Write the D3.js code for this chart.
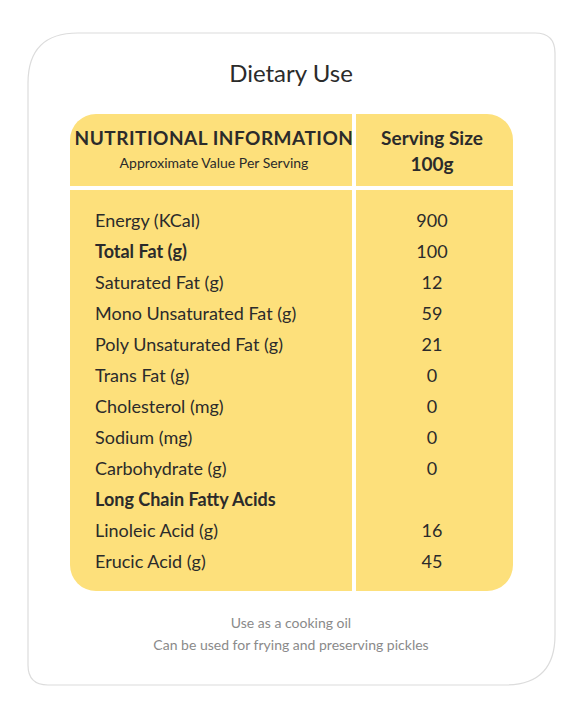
<!DOCTYPE html>
<html>
<head>
<meta charset="utf-8">
<script src="https://cdn.jsdelivr.net/npm/d3@7"></script>
<style>
  body { margin: 0; background: #fff; }
  text { font-family: Lato, 'Open Sans', sans-serif; }
</style>
</head>
<body>
<svg class="nutri" width="583" height="720"></svg>
<script>
const nutrients = ['Energy (KCal)', 'Total Fat (g)', 'Saturated Fat (g)', 'Mono Unsaturated Fat (g)',
  'Poly Unsaturated Fat (g)', 'Trans Fat (g)', 'Cholesterol (mg)', 'Sodium (mg)',
  'Carbohydrate (g)', 'Long Chain Fatty Acids', 'Linoleic Acid (g)', 'Erucic Acid (g)'];
const values = ['900', '100', '12', '59', '21', '0', '0', '0', '0', '', '16', '45'];
const boldRows = ['Total Fat (g)', 'Long Chain Fatty Acids'];
const footerLines = ['Use as a cooking oil', 'Can be used for frying and preserving pickles'];

const svg = d3.select('.nutri');
const yellow = '#fde07b';
const ink = '#2b2b2b';

// card outline
svg.append('path')
  .attr('fill', '#fff')
  .attr('stroke', '#dcdcdc')
  .attr('stroke-width', 1.2)
  .attr('d', 'M78 33 L535 33 Q555 33 555 53 L555 635 Q555 685 505 685 L48 685 Q28 685 28 665 L28 83 Q28 33 78 33 Z');

svg.append('text')
  .attr('x', 291).attr('y', 82)
  .attr('text-anchor', 'middle')
  .attr('font-size', 24)
  .attr('fill', ink)
  .text('Dietary Use');

// table body
svg.append('rect')
  .attr('x', 70).attr('y', 114)
  .attr('width', 443).attr('height', 477)
  .attr('rx', 26)
  .attr('fill', yellow);

svg.append('rect').attr('x', 352).attr('y', 114).attr('width', 4).attr('height', 477).attr('fill', '#fff');
svg.append('rect').attr('x', 70).attr('y', 186).attr('width', 443).attr('height', 4).attr('fill', '#fff');

// header
const head = svg.append('g').attr('fill', ink).attr('text-anchor', 'middle');
head.append('text').attr('x', 214).attr('y', 145).attr('font-size', 19).attr('font-weight', 'bold')
  .attr('letter-spacing', 0.5).text('NUTRITIONAL INFORMATION');
head.append('text').attr('x', 214).attr('y', 168).attr('font-size', 14).text('Approximate Value Per Serving');
head.append('text').attr('x', 432).attr('y', 145).attr('font-size', 19).attr('font-weight', 'bold').text('Serving Size');
head.append('text').attr('x', 432).attr('y', 171).attr('font-size', 19).attr('font-weight', 'bold').text('100g');

// rows
const y = d3.scaleBand().domain(nutrients).range([205, 577]);

const rows = svg.append('g')
  .selectAll('g.row')
  .data(nutrients)
  .enter()
  .append('g')
  .attr('class', 'row')
  .attr('transform', d => `translate(0, ${y(d) + y.bandwidth() / 2 + 6})`);

rows.append('text')
  .attr('x', 95)
  .attr('font-size', 18)
  .attr('font-weight', d => boldRows.includes(d) ? 'bold' : 'normal')
  .attr('fill', ink)
  .text(d => d);

rows.append('text')
  .attr('x', 432)
  .attr('text-anchor', 'middle')
  .attr('font-size', 18)
  .attr('fill', ink)
  .text((d, i) => values[i]);

// footer
svg.append('g')
  .selectAll('text')
  .data(footerLines)
  .enter()
  .append('text')
  .attr('x', 291)
  .attr('y', (d, i) => 628 + i * 22)
  .attr('text-anchor', 'middle')
  .attr('font-size', 14)
  .attr('fill', '#8a8a8a')
  .text(d => d);
</script>
</body>
</html>
